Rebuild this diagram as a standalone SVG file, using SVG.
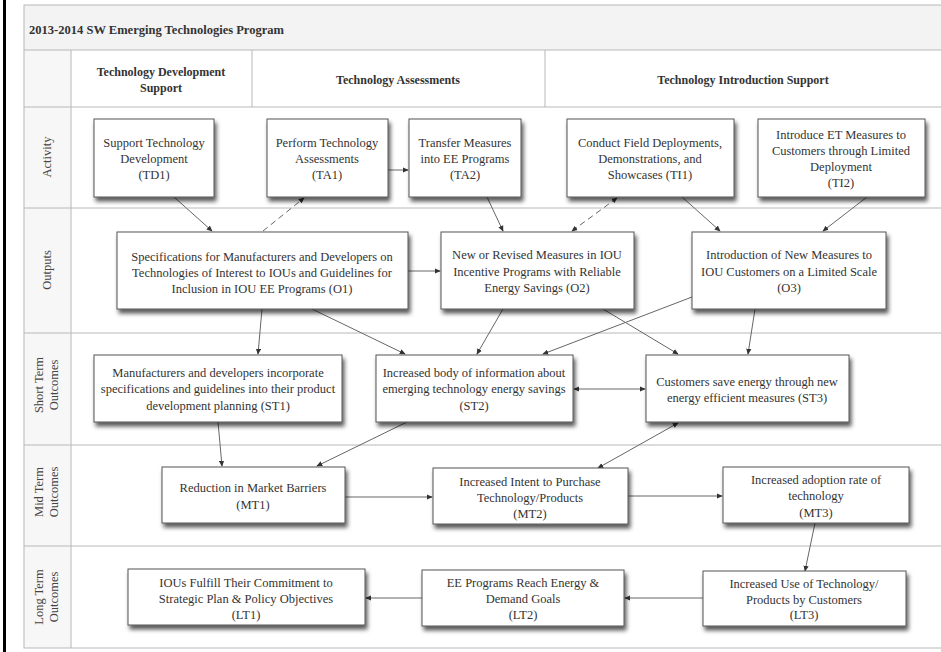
<svg xmlns="http://www.w3.org/2000/svg" width="941" height="652" viewBox="0 0 941 652">
<defs>
<style>
.grid{stroke:#b8b8b8;stroke-width:1;fill:none}
.box{fill:#fff;stroke:#555;stroke-width:1;filter:url(#sh)}
.t{font-family:"Liberation Serif","Times New Roman",serif;font-size:12.5px;fill:#333;text-anchor:middle}
.h{font-family:"Liberation Serif","Times New Roman",serif;font-size:12px;font-weight:bold;fill:#333;text-anchor:middle}
.lane{font-family:"Liberation Serif","Times New Roman",serif;font-size:12.5px;fill:#444;text-anchor:middle}
.c{stroke:#666;stroke-width:1;fill:none;marker-end:url(#ah)}
.d{stroke-dasharray:6,4}
.b{marker-start:url(#ah)}
</style>
<filter id="sh" x="-10%" y="-10%" width="125%" height="140%">
<feDropShadow dx="2" dy="4" stdDeviation="2" flood-color="#000" flood-opacity="0.65"/>
</filter>
<marker id="ah" viewBox="0 0 8 8" refX="7" refY="4" markerWidth="6" markerHeight="6" orient="auto-start-reverse" markerUnits="userSpaceOnUse">
<path d="M0,0.5 L8,4 L0,7.5 z" fill="#333"/>
</marker>
</defs>
<rect x="0" y="0" width="941" height="652" fill="#fff"/>
<rect x="3" y="0" width="3" height="652" fill="#000"/>
<g id="frame">
<rect x="24" y="5" width="920" height="45" fill="#f3f3f3"/>
<rect x="24" y="50" width="47" height="598" fill="#f7f7f7"/>
<rect x="24" y="5" width="920" height="643" class="grid"/>
<line x1="24" y1="50" x2="941" y2="50" class="grid"/>
<line x1="24" y1="107" x2="941" y2="107" class="grid"/>
<line x1="24" y1="208" x2="941" y2="208" class="grid"/>
<line x1="24" y1="333" x2="941" y2="333" class="grid"/>
<line x1="24" y1="445" x2="941" y2="445" class="grid"/>
<line x1="24" y1="546" x2="941" y2="546" class="grid"/>
<line x1="71" y1="50" x2="71" y2="648" class="grid"/>
<line x1="252" y1="50" x2="252" y2="107" class="grid"/>
<line x1="545" y1="50" x2="545" y2="107" class="grid"/>
<text x="29" y="34" font-family="'Liberation Serif','Times New Roman',serif" font-size="12" font-weight="bold" fill="#333" textLength="255" lengthAdjust="spacingAndGlyphs">2013-2014 SW Emerging Technologies Program</text>
<text class="h" x="161" y="76">Technology Development</text>
<text class="h" x="161" y="92">Support</text>
<text class="h" x="398" y="84">Technology Assessments</text>
<text class="h" x="743" y="84">Technology Introduction Support</text>
<text class="lane" transform="translate(51,157) rotate(-90)">Activity</text>
<text class="lane" transform="translate(51,270) rotate(-90)">Outputs</text>
<text class="lane" transform="translate(43,385) rotate(-90)">Short Term<tspan x="0" dy="15">Outcomes</tspan></text>
<text class="lane" transform="translate(43,492) rotate(-90)">Mid Term<tspan x="0" dy="15">Outcomes</tspan></text>
<text class="lane" transform="translate(43,597) rotate(-90)">Long Term<tspan x="0" dy="15">Outcomes</tspan></text>
</g>
<g id="connectors">
<line class="c" x1="174" y1="197" x2="212" y2="231"/>
<line class="c d" x1="263" y1="231" x2="304" y2="198"/>
<line class="c" x1="388" y1="170" x2="408" y2="170"/>
<line class="c" x1="487" y1="197" x2="503" y2="231"/>
<line class="c d b" x1="617" y1="198" x2="572" y2="231"/>
<line class="c" x1="682" y1="197" x2="720" y2="231"/>
<line class="c" x1="867" y1="197" x2="823" y2="231"/>
<line class="c" x1="408" y1="271" x2="440" y2="271"/>
<line class="c" x1="262" y1="309" x2="258" y2="354"/>
<line class="c" x1="312" y1="309" x2="405" y2="354"/>
<line class="c" x1="503" y1="309" x2="477" y2="354"/>
<line class="c" x1="692" y1="297" x2="543" y2="354"/>
<line class="c" x1="603" y1="309" x2="678" y2="354"/>
<line class="c" x1="755" y1="309" x2="748" y2="354"/>
<line class="c b" x1="574" y1="389" x2="645" y2="389"/>
<line class="c" x1="218" y1="422" x2="222" y2="466"/>
<line class="c" x1="407" y1="422" x2="317" y2="466"/>
<line class="c b" x1="678" y1="423" x2="598" y2="468"/>
<line class="c" x1="345" y1="497" x2="432" y2="497"/>
<line class="c" x1="628" y1="496" x2="722" y2="496"/>
<line class="c" x1="815" y1="523" x2="805" y2="571"/>
<line class="c" x1="703" y1="598" x2="625" y2="598"/>
<line class="c" x1="422" y1="598" x2="366" y2="598"/>
</g>
<g id="TD1"><rect class="box" x="94" y="119" width="120" height="78"/>
<text class="t" x="154" y="147">Support Technology</text><text class="t" x="154" y="163">Development</text><text class="t" x="154" y="179">(TD1)</text></g>
<g id="TA1"><rect class="box" x="267" y="119" width="121" height="78"/>
<text class="t" x="327" y="147">Perform Technology</text><text class="t" x="327" y="163">Assessments</text><text class="t" x="327" y="179">(TA1)</text></g>
<g id="TA2"><rect class="box" x="409" y="119" width="112" height="78"/>
<text class="t" x="465" y="147">Transfer Measures</text><text class="t" x="465" y="163">into EE Programs</text><text class="t" x="465" y="179">(TA2)</text></g>
<g id="TI1"><rect class="box" x="567" y="119" width="167" height="78"/>
<text class="t" x="650" y="147">Conduct Field Deployments,</text><text class="t" x="650" y="163">Demonstrations, and</text><text class="t" x="650" y="179">Showcases (TI1)</text></g>
<g id="TI2"><rect class="box" x="758" y="119" width="167" height="78"/>
<text class="t" x="841" y="139">Introduce ET Measures to</text><text class="t" x="841" y="155">Customers through Limited</text><text class="t" x="841" y="171">Deployment</text><text class="t" x="841" y="187">(TI2)</text></g>
<g id="O1"><rect class="box" x="117" y="232" width="291" height="77"/>
<text class="t" x="262" y="261">Specifications for Manufacturers and Developers on</text><text class="t" x="262" y="277">Technologies of Interest to IOUs and Guidelines for</text><text class="t" x="262" y="293">Inclusion in IOU EE Programs (O1)</text></g>
<g id="O2"><rect class="box" x="441" y="232" width="193" height="77"/>
<text class="t" x="537" y="259">New or Revised Measures in IOU</text><text class="t" x="537" y="276">Incentive Programs with Reliable</text><text class="t" x="537" y="292">Energy Savings (O2)</text></g>
<g id="O3"><rect class="box" x="692" y="232" width="194" height="77"/>
<text class="t" x="789" y="259">Introduction of New Measures to</text><text class="t" x="789" y="276">IOU Customers on a Limited Scale</text><text class="t" x="789" y="292">(O3)</text></g>
<g id="ST1"><rect class="box" x="94" y="355" width="248" height="67"/>
<text class="t" x="218" y="377">Manufacturers and developers incorporate</text><text class="t" x="218" y="393">specifications and guidelines into their product</text><text class="t" x="218" y="410">development planning (ST1)</text></g>
<g id="ST2"><rect class="box" x="376" y="355" width="197" height="67"/>
<text class="t" x="474" y="377">Increased body of information about</text><text class="t" x="474" y="393">emerging technology energy savings</text><text class="t" x="474" y="410">(ST2)</text></g>
<g id="ST3"><rect class="box" x="646" y="355" width="203" height="67"/>
<text class="t" x="747" y="386">Customers save energy through new</text><text class="t" x="747" y="402">energy efficient measures (ST3)</text></g>
<g id="MT1"><rect class="box" x="162" y="467" width="183" height="56"/>
<text class="t" x="253" y="492">Reduction in Market Barriers</text><text class="t" x="253" y="509">(MT1)</text></g>
<g id="MT2"><rect class="box" x="433" y="468" width="195" height="56"/>
<text class="t" x="530" y="486">Increased Intent to Purchase</text><text class="t" x="530" y="502">Technology/Products</text><text class="t" x="530" y="518">(MT2)</text></g>
<g id="MT3"><rect class="box" x="723" y="467" width="186" height="56"/>
<text class="t" x="816" y="484">Increased adoption rate of</text><text class="t" x="816" y="500">technology</text><text class="t" x="816" y="517">(MT3)</text></g>
<g id="LT1"><rect class="box" x="128" y="569" width="237" height="56"/>
<text class="t" x="246" y="587">IOUs Fulfill Their Commitment to</text><text class="t" x="246" y="603">Strategic Plan &amp; Policy Objectives</text><text class="t" x="246" y="619">(LT1)</text></g>
<g id="LT2"><rect class="box" x="422" y="570" width="202" height="56"/>
<text class="t" x="523" y="587">EE Programs Reach Energy &amp;</text><text class="t" x="523" y="603">Demand Goals</text><text class="t" x="523" y="619">(LT2)</text></g>
<g id="LT3"><rect class="box" x="703" y="571" width="203" height="55"/>
<text class="t" x="804" y="588">Increased Use of Technology/</text><text class="t" x="804" y="604">Products by Customers</text><text class="t" x="804" y="619">(LT3)</text></g>
</svg>
